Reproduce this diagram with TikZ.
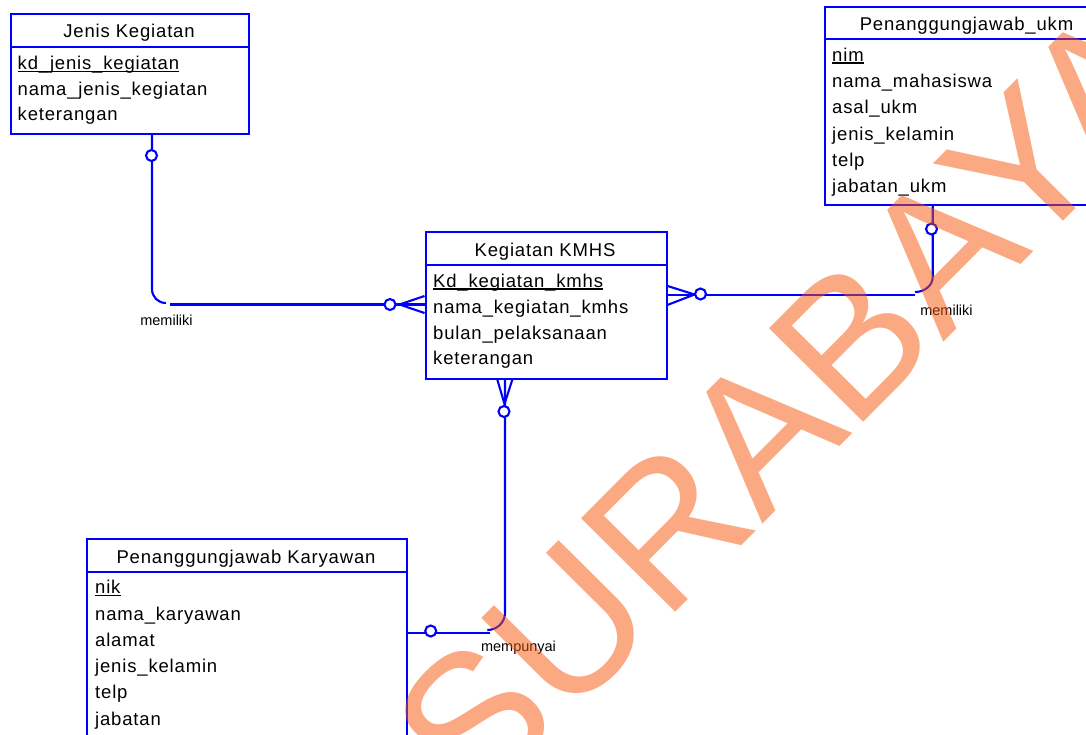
\documentclass[tikz,border=0pt]{standalone}
\usepackage{fontspec}
\setmainfont{Liberation Sans}
\newfontfamily\attrfont[LetterSpace=4.5]{Liberation Sans}
\usetikzlibrary{calc}
\definecolor{erblue}{RGB}{0,0,255}
\definecolor{wmorange}{RGB}{247,85,9}
\newcommand\pkline[1]{\setbox0\hbox{#1}\rlap{\vrule width \wd0 height -1pt depth 2.7pt}\box0}
\begin{document}
\begin{tikzpicture}[x=1pt,y=-1pt,
  entbox/.style={draw=erblue, line width=2.1pt, rectangle, inner sep=0pt, anchor=north west},
  hdr/.style={draw=erblue, line width=2.1pt},
  attr/.style={anchor=base west, inner sep=0pt, text=black, font=\attrfont\fontsize{18.5}{20}\selectfont},
  ttl/.style={anchor=base, inner sep=0pt, text=black, font=\attrfont\fontsize{18.5}{20}\selectfont},
  rel/.style={draw=erblue, line width=2.1pt},
  optc/.style={circle, draw=erblue, fill=white, line width=2.1pt, minimum size=11pt, inner sep=0pt},
  lbl/.style={anchor=base, inner sep=0pt, text=black, font=\fontsize{14.5}{16}\selectfont},
  wm/.style={anchor=base west, inner sep=0pt, rotate=45.2, text=wmorange, text opacity=0.5, font=\fontsize{193}{193}\selectfont}
]
\useasboundingbox (0,0) rectangle (1086,734);
\fill[white] (0,0) rectangle (1086,734);

% ---------- connectors ----------
% Jenis Kegiatan -- Kegiatan KMHS
\coordinate (r1a) at (152,133.3);
\coordinate (r1b) at (152,289);
\coordinate (r1c) at (166,303);
\coordinate (r1d) at (170,304.5);
\coordinate (r1e) at (424.5,304.5);
\coordinate (cf1) at (399.5,304.5);
\coordinate (cf1a) at (424.5,296);
\coordinate (cf1b) at (424.5,313);
\draw[rel] (r1a) -- (r1b) .. controls (152,297) and (158,303) .. (r1c);
\draw[rel] (r1d) -- (r1e);
\draw[rel] (cf1a) -- (cf1) -- (cf1b);
\node[optc] (o1a) at (151.5,155.5) {};
\node[optc] (o1b) at (390,304.5) {};
\node[lbl] (l1) at (166.5,325) {memiliki};

% Kegiatan KMHS -- Penanggungjawab_ukm
\coordinate (r2a) at (666,295);
\coordinate (r2b) at (915,295);
\coordinate (r2c) at (915,292);
\coordinate (r2d) at (932.7,277);
\coordinate (r2e) at (932.7,204);
\coordinate (cf2) at (694.5,294.5);
\coordinate (cf2a) at (666,285.5);
\coordinate (cf2b) at (666,305.5);
\draw[rel] (r2a) -- (r2b);
\draw[rel] (r2c) .. controls (924.8,292) and (932.7,285.3) .. (r2d) -- (r2e);
\draw[rel] (cf2a) -- (cf2) -- (cf2b);
\node[optc] (o2a) at (700.5,294) {};
\node[optc] (o2b) at (931.5,229) {};
\node[lbl] (l2) at (946.5,315) {memiliki};

% Kegiatan KMHS -- Penanggungjawab Karyawan
\coordinate (r3a) at (505,377.5);
\coordinate (r3b) at (505,613);
\coordinate (r3c) at (487.3,630);
\coordinate (r3d) at (490,633);
\coordinate (r3e) at (406,633);
\coordinate (cf3) at (504.5,404);
\coordinate (cf3a) at (496.7,377.5);
\coordinate (cf3b) at (513,377.5);
\draw[rel] (r3a) -- (r3b) .. controls (505,622.4) and (497,630) .. (r3c);
\draw[rel] (r3d) -- (r3e);
\draw[rel] (cf3a) -- (cf3) -- (cf3b);
\node[optc] (o3a) at (504,411.5) {};
\node[optc] (o3b) at (430.7,631) {};
\node[lbl] (l3) at (518.5,651.5) {mempunyai};

% ---------- entities ----------
% Jenis Kegiatan
\node[entbox, fill=white, minimum width=238pt, minimum height=120.3pt] (jk) at (10,13) {};
\draw[hdr] (10,47) -- (250,47);
\node[ttl] (jkT) at (129,37.5) {Jenis Kegiatan};
\node[attr] (jk1) at (17.5,69.5) {\pkline{kd\_jenis\_kegiatan}};
\node[attr] (jk2) at (17.5,95) {nama\_jenis\_kegiatan};
\node[attr] (jk3) at (17.5,120.5) {keterangan};

% Penanggungjawab_ukm
\node[entbox, fill=white, minimum width=285pt, minimum height=198pt] (pu) at (824,6) {};
\draw[hdr] (824,39) -- (1111,39);
\node[ttl] (puT) at (966.5,30) {Penanggungjawab\_ukm};
\node[attr] (pu1) at (832,61) {\pkline{nim}};
\node[attr] (pu2) at (832,87) {nama\_mahasiswa};
\node[attr] (pu3) at (832,113.5) {asal\_ukm};
\node[attr] (pu4) at (832,140) {jenis\_kelamin};
\node[attr] (pu5) at (832,166) {telp};
\node[attr] (pu6) at (832,192.5) {jabatan\_ukm};

% Kegiatan KMHS
\node[entbox, fill=white, minimum width=241.5pt, minimum height=146.5pt] (kg) at (424.5,231) {};
\draw[hdr] (424.5,265) -- (668,265);
\node[ttl] (kgT) at (545,256) {Kegiatan KMHS};
\node[attr] (kg1) at (433,287) {\pkline{Kd\_kegiatan\_kmhs}};
\node[attr] (kg2) at (433,313) {nama\_kegiatan\_kmhs};
\node[attr] (kg3) at (433,339) {bulan\_pelaksanaan};
\node[attr] (kg4) at (433,364.5) {keterangan};

% Penanggungjawab Karyawan
\node[entbox, fill=white, minimum width=320pt, minimum height=198pt] (pk) at (86,538) {};
\draw[hdr] (86,571.7) -- (408,571.7);
\node[ttl] (pkT) at (246,563) {Penanggungjawab Karyawan};
\node[attr] (pk1) at (95,593.5) {\pkline{nik}};
\node[attr] (pk2) at (95,620) {nama\_karyawan};
\node[attr] (pk3) at (95,646) {alamat};
\node[attr] (pk4) at (95,672) {jenis\_kelamin};
\node[attr] (pk5) at (95,698.5) {telp};
\node[attr] (pk6) at (95,725) {jabatan};

% ---------- watermark ----------
\node[wm] (wmk) at (475,814) {SURABAYA};
\end{tikzpicture}
\end{document}
